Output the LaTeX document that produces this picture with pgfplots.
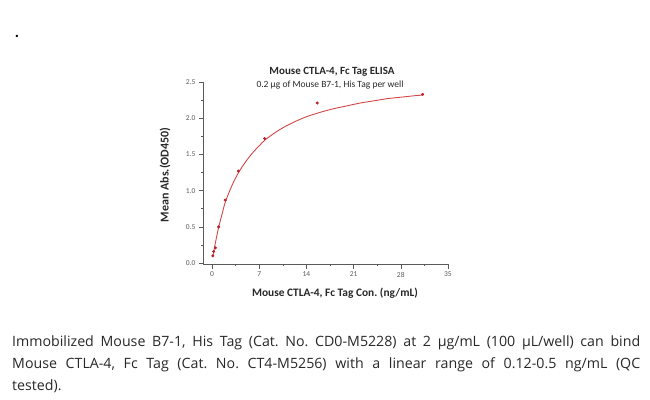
\documentclass[border=0pt]{standalone}
\usepackage{pgfplots}
\pgfplotsset{compat=1.18}
\usepackage{fontspec}
\setmainfont{Carlito}
\newfontfamily\capfont{Open Sans}
\definecolor{curvecol}{RGB}{210,70,70}
\definecolor{markcol}{RGB}{185,30,40}
\definecolor{axcol}{RGB}{90,90,90}
\definecolor{txtcol}{RGB}{40,40,40}
\begin{document}
\frenchspacing
\begin{tikzpicture}[x=1pt,y=1pt]
\path[use as bounding box] (0,0) rectangle (650,399);
\begin{axis}[at={(203pt,134.5pt)}, anchor=south west, scale only axis,
  width=246pt, height=182.5pt,
  xmin=-1.34, xmax=35.16, ymin=-0.02, ymax=2.5,
  axis x line=bottom, axis y line=left,
  axis line style={-, axcol, line width=0.6pt},
  xtick={0,7,...,35}, ytick={0,0.5,...,2.5},
  minor x tick num=1, minor y tick num=1,
  tick align=outside, major tick length=4pt, minor tick length=2pt,
  every tick/.style={axcol, line width=0.5pt},
  yticklabel style={/pgf/number format/.cd, fixed, fixed zerofill, precision=1},
  ticklabel style={font=\fontsize{7.5}{9}\selectfont, text=axcol},
  /pgf/number format/assume math mode=true,
  clip=false]
\addplot[smooth, color=curvecol, line width=0.9pt] coordinates {
 (0.12,0.09) (0.25,0.15) (0.5,0.28) (1,0.50) (1.5,0.68) (2,0.85) (3,1.08)
 (4,1.26) (5,1.40) (6,1.52) (7,1.62) (8,1.71) (10,1.84) (12,1.94) (14,2.02)
 (16,2.08) (18,2.13) (20,2.17) (22,2.21) (24,2.24) (26,2.27) (28,2.29)
 (30,2.31) (31.25,2.32)};
\addplot[only marks, mark=*, mark size=1.3pt, color=markcol] coordinates {
 (0.12,0.10) (0.24,0.16) (0.49,0.21) (0.98,0.50) (1.95,0.87) (3.9,1.27)
 (7.8,1.72) (15.6,2.21) (31.25,2.33)};
\end{axis}
\node[font=\bfseries\fontsize{11}{12}\selectfont, text=txtcol] at (332,327) {Mouse CTLA-4, Fc Tag ELISA};
\node[font=\fontsize{9.5}{10}\selectfont, text=txtcol] at (330,314) {0.2 µg of Mouse B7-1, His Tag per well};
\node[font=\bfseries\fontsize{11.4}{12}\selectfont, text=txtcol] at (335,106) {Mouse CTLA-4, Fc Tag Con. (ng/mL)};
\node[font=\bfseries\fontsize{12}{13}\selectfont, text=txtcol, rotate=90] at (165,224) {Mean Abs.(OD450)};
\node[font=\bfseries\fontsize{16}{16}\selectfont, text=black, anchor=base] at (17,361) {.};
\begin{scope}[every node/.style={anchor=base west, inner sep=0pt, font=\capfont\fontsize{14.2}{16}\selectfont, text=txtcol}]
\node at (12,53) {\makebox[628pt][s]{Immobilized Mouse B7-1, His Tag (Cat. No. CD0-M5228) at 2 µg/mL (100 µL/well) can bind}};
\node at (12,31) {\makebox[628pt][s]{Mouse CTLA-4, Fc Tag (Cat. No. CT4-M5256) with a linear range of 0.12-0.5 ng/mL (QC}};
\node at (12,9) {tested).};
\end{scope}
\end{tikzpicture}
\end{document}
